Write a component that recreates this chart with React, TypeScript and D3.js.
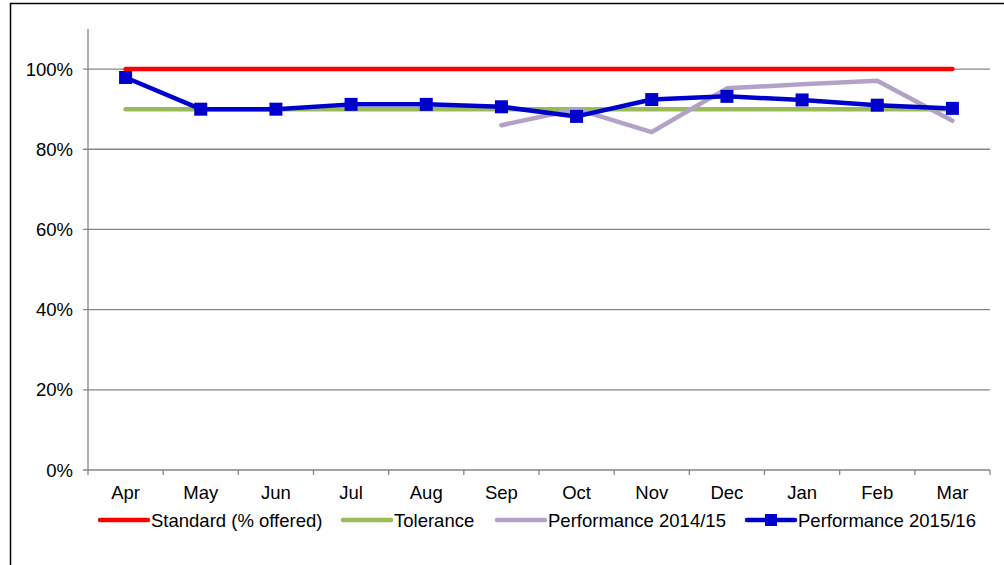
import React from "react";
import * as d3 from "d3";

const months = ["Apr", "May", "Jun", "Jul", "Aug", "Sep", "Oct", "Nov", "Dec", "Jan", "Feb", "Mar"];
const standard = [100, 100, 100, 100, 100, 100, 100, 100, 100, 100, 100, 100];
const tolerance = [90, 90, 90, 90, 90, 90, 90, 90, 90, 90, 90, 90];
const perf1415 = [null, null, null, null, null, 86.0, 90.0, 84.3, 95.2, 96.2, 97.1, 87.1];
const perf1516 = [97.9, 90.0, 90.0, 91.2, 91.2, 90.6, 88.2, 92.4, 93.2, 92.3, 91.0, 90.2];
const yTicks = [0, 20, 40, 60, 80, 100];

const series = [
  { name: "Standard (% offered)", values: standard, color: "#ff0000", marker: false },
  { name: "Tolerance", values: tolerance, color: "#9bbb59", marker: false },
  { name: "Performance 2014/15", values: perf1415, color: "#b3a2c7", marker: false },
  { name: "Performance 2015/16", values: perf1516, color: "#0000cc", marker: true },
];

const legendX = [100, 343, 497, 747];

const App = () => {
  const width = 1004;
  const height = 565;
  const left = 88;
  const right = 990;
  const top = 29;
  const bottom = 470;
  const fs = 18.5;

  const x = d3.scaleBand().domain(months).range([left, right]);
  const y = d3.scaleLinear().domain([0, 110]).range([bottom, top]);
  const cx = (m: string) => (x(m) as number) + x.bandwidth() / 2;

  const line = d3
    .line<number | null>()
    .defined((d) => d != null)
    .x((_, i) => cx(months[i]))
    .y((d) => y(d as number));

  const font = "'Liberation Sans', Arial, sans-serif";

  return (
    <svg
      width={width}
      height={height}
      style={{ position: "absolute", left: 0, top: 0 }}
      fontFamily={font}
    >
      <rect x={0} y={0} width={width} height={height} fill="#fff" />
      <rect x={10.5} y={3.5} width={1000} height={570} fill="none" stroke="#000" strokeWidth={1.5} />
      {yTicks.map((t) => (
        <g key={t}>
          <line x1={left - 5} x2={right} y1={y(t)} y2={y(t)} stroke="#868686" strokeWidth={1.3} />
          <text x={73} y={y(t) + 6.5} textAnchor="end" fontSize={fs} fill="#000">
            {t}%
          </text>
        </g>
      ))}
      <line x1={left} x2={left} y1={top} y2={bottom} stroke="#868686" strokeWidth={1.3} />
      {months.map((m) => (
        <line
          key={"t" + m}
          x1={x(m) as number}
          x2={x(m) as number}
          y1={bottom}
          y2={bottom + 5}
          stroke="#868686"
          strokeWidth={1.3}
        />
      ))}
      <line x1={right} x2={right} y1={bottom} y2={bottom + 5} stroke="#868686" strokeWidth={1.3} />
      {months.map((m) => (
        <text key={m} x={cx(m)} y={498.5} textAnchor="middle" fontSize={fs} fill="#000">
          {m}
        </text>
      ))}
      {series.map((s) => (
        <g key={s.name}>
          <path
            d={line(s.values) || ""}
            fill="none"
            stroke={s.color}
            strokeWidth={4.5}
            strokeLinejoin="round"
            strokeLinecap="round"
          />
          {s.marker &&
            s.values.map((v, i) =>
              v == null ? null : (
                <rect
                  key={i}
                  x={cx(months[i]) - 6.5}
                  y={y(v) - 6.5}
                  width={13}
                  height={13}
                  fill={s.color}
                />
              )
            )}
        </g>
      ))}
      {series.map((s, i) => (
        <g key={"lg" + s.name} transform={`translate(${legendX[i]},520)`}>
          <line x1={0} x2={48} y1={0} y2={0} stroke={s.color} strokeWidth={4.5} strokeLinecap="round" />
          {s.marker && <rect x={18} y={-6} width={12} height={12} fill={s.color} />}
          <text x={51} y={6.5} fontSize={fs} fill="#000">
            {s.name}
          </text>
        </g>
      ))}
    </svg>
  );
};

export default App;
